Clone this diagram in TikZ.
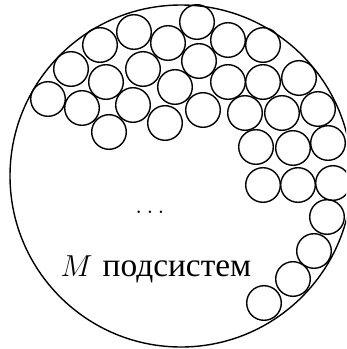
\documentclass[tikz,border=0pt]{standalone}
\usepackage{fontspec}
\newfontfamily\cyrfont{Liberation Serif}
\usepackage{tikz}

\begin{document}
\begin{tikzpicture}[x=0.02cm,y=-0.02cm,
        subsys/.style={draw,line width=0.8pt}]
        \useasboundingbox (0,0) rectangle (346,349);
        \clip (0,0) rectangle (346,349);
        % the whole system
        \draw[subsys] (181,176) circle (171);
        % subsystems
        \foreach \x/\y in {197/22,134/32,100/45,168/43,228/40,263/45,
                           71/69,199/61,143/69,106/82,175/87,228/82,263/82,299/78,
                           48/99,82/108,133/105,203/110,245/113,282/113,318/109,
                           109/132,165/123,256/147,293/148,328/143,
                           263/185,298/185,333/183,327/217,314/251,293/279,264/303}{
            \draw[subsys] (\x,\y) circle (17.3);
        }
        \node (dots) at (150,212) {\fontsize{15}{18}\selectfont$\dots$};
        \node (label) at (156,269) {\fontsize{19}{22}\selectfont$M$ {\cyrfont подсистем}};
\end{tikzpicture}
\end{document}
